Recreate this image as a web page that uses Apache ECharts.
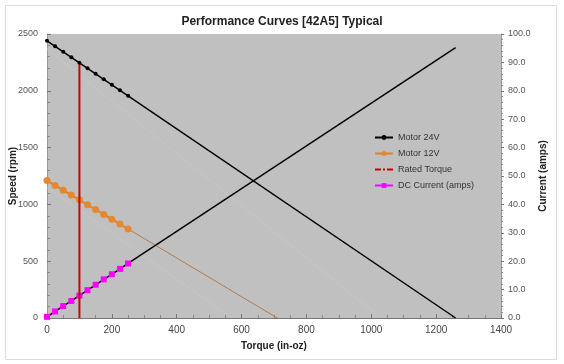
<!DOCTYPE html>
<html><head><meta charset="utf-8">
<script src="https://cdn.jsdelivr.net/npm/echarts@6/dist/echarts.min.js"></script>
<style>html,body{margin:0;padding:0;background:#fff}#c{width:564px;height:364px}</style>
</head><body><div id="c"></div>
<script>
var torqueMarks = [0, 25, 50, 75, 100, 125, 150, 175, 200, 225, 250];
var speed24 = [2440, 2392, 2343, 2295, 2246, 2198, 2150, 2101, 2053, 2004, 1956];
var speed24End = [1260, 0];
var speed12 = [1210, 1167, 1125, 1082, 1040, 997, 955, 912, 870, 827, 784];
var speed12End = [710, 0];
var current = [0.4, 2.3, 4.2, 6.0, 7.9, 9.8, 11.7, 13.6, 15.4, 17.3, 19.2];
var currentEnd = [1260, 95.2];
var ratedTorque = [[100, 0], [100, 2246]];
var ghostA = [[0, 2370], [1030, 0]];
var ghostB = [[0, 1150], [570, 0]];

function pts(xs, ys) { return xs.map(function (x, i) { return [x, ys[i]]; }); }

var chart = echarts.init(document.getElementById('c'), null, {renderer: 'canvas'});
var font = 'Liberation Sans, Arial, sans-serif';
var s24 = pts(torqueMarks, speed24); s24.push({value: speed24End, symbol: 'none'});
var s12 = pts(torqueMarks, speed12);
var s12tail = [[torqueMarks[torqueMarks.length - 1], speed12[speed12.length - 1]], speed12End];
var cur = pts(torqueMarks, current); cur.push({value: currentEnd, symbol: 'none'});

chart.setOption({
  animation: false,
  backgroundColor: '#fff',
  textStyle: {fontFamily: font},
  title: {text: 'Performance Curves [42A5] Typical', left: 'center', top: 11,
    textStyle: {fontSize: 12, fontWeight: 'bold', color: '#222', fontFamily: font}},
  graphic: [{type: 'rect', shape: {x: 5.5, y: 5.5, width: 551, height: 354},
    style: {fill: 'none', stroke: '#dcdcdc', lineWidth: 1}, z: -1}],
  grid: {left: 47, right: 63, top: 34, bottom: 46, show: true, backgroundColor: '#c0c0c0', borderWidth: 0,
    containLabel: false, outerBoundsMode: 'none'},
  legend: {
    orient: 'vertical', left: 369, top: 128, itemWidth: 18, itemHeight: 6, itemGap: 7,
    textStyle: {fontSize: 9, color: '#333', fontFamily: font},
    data: [
      {name: 'Motor 24V'},
      {name: 'Motor 12V'},
      {name: 'Rated Torque', icon: 'path://M0,0h6v2h-6z M8,0h2v2h-2z M12,0h6v2h-6z'},
      {name: 'DC Current (amps)', lineStyle: {color: '#ff00ff'}, itemStyle: {color: '#ff00ff'}}
    ]
  },
  xAxis: {
    type: 'value', min: 0, max: 1400, interval: 200,
    name: 'Torque (in-oz)', nameLocation: 'middle', nameGap: 23, nameMoveOverlap: false,
    nameTextStyle: {fontSize: 10, fontWeight: 'bold', color: '#222'},
    axisLine: {show: true, lineStyle: {color: '#777'}},
    axisTick: {show: true, inside: true, length: 4, lineStyle: {color: '#777'}},
    minorTick: {show: true, splitNumber: 4, length: 3, lineStyle: {color: '#888'}},
    axisLabel: {fontSize: 10, color: '#444', margin: 7, formatter: function (v) { return String(v); }},
    splitLine: {show: false}
  },
  yAxis: [{
    type: 'value', min: 0, max: 2500, interval: 500,
    name: 'Speed (rpm)', nameLocation: 'middle', nameGap: 29, nameRotate: 90, nameMoveOverlap: false,
    nameTextStyle: {fontSize: 10, fontWeight: 'bold', color: '#222'},
    axisLine: {show: true, lineStyle: {color: '#999'}},
    axisTick: {show: true, inside: true, length: 4, lineStyle: {color: '#777'}},
    minorTick: {show: true, splitNumber: 5, length: 3, lineStyle: {color: '#888'}},
    axisLabel: {fontSize: 9, color: '#555', margin: 9, formatter: function (v) { return String(v); }},
    splitLine: {show: false}
  }, {
    type: 'value', min: 0, max: 100, interval: 10, position: 'right',
    name: 'Current (amps)', nameLocation: 'middle', nameGap: 37, nameRotate: 90, nameMoveOverlap: false,
    nameTextStyle: {fontSize: 10, fontWeight: 'bold', color: '#222'},
    axisLine: {show: true, lineStyle: {color: '#999'}},
    axisTick: {show: true, length: 3, lineStyle: {color: '#777'}},
    minorTick: {show: true, splitNumber: 5, length: 2, lineStyle: {color: '#888'}},
    axisLabel: {fontSize: 9, color: '#555', margin: 7, formatter: function (v) { return v.toFixed(1); }},
    splitLine: {show: false}
  }],
  series: [
    {name: 'ghostA', type: 'line', data: ghostA, symbol: 'none', silent: true,
      lineStyle: {color: '#c6c6c6', width: 1}, z: 1},
    {name: 'ghostB', type: 'line', data: ghostB, symbol: 'none', silent: true,
      lineStyle: {color: '#c6c6c6', width: 1}, z: 1},
    {name: 'Motor 12V tail', type: 'line', data: s12tail, symbol: 'none', silent: true,
      lineStyle: {color: '#b07850', width: 1}, z: 2},
    {name: 'Motor 12V', type: 'line', data: s12, symbol: 'circle', symbolSize: 7, showAllSymbol: true,
      itemStyle: {color: '#e8882e'}, lineStyle: {color: '#d9822b', width: 2}, z: 3},
    {name: 'DC Current (amps)', type: 'line', yAxisIndex: 1, data: cur, symbol: 'rect', symbolSize: 6,
      showAllSymbol: true, itemStyle: {color: '#ff00ff'}, lineStyle: {color: '#000', width: 1.5}, z: 4},
    {name: 'Rated Torque', type: 'line', data: ratedTorque, symbol: 'none',
      itemStyle: {color: '#cc0000'}, lineStyle: {color: '#cc0000', width: 2}, z: 5},
    {name: 'Motor 24V', type: 'line', data: s24, symbol: 'circle', symbolSize: 4, showAllSymbol: true,
      itemStyle: {color: '#000'}, lineStyle: {color: '#000', width: 1.5}, z: 6}
  ]
});
</script></body></html>
